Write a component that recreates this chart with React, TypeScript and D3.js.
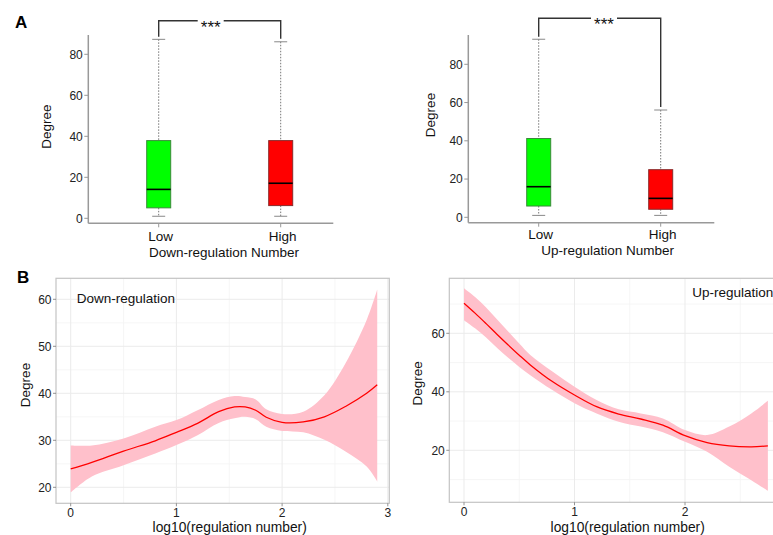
import React from "react";
import * as d3 from "d3";

// ---------- Panel A data (box plots) ----------
const boxCategories = ["Low", "High"];
const downBoxStats = [
  { lower: 1, q1: 5.1, median: 14.1, q3: 37.9, upper: 87.3 },
  { lower: 1, q1: 6.2, median: 17.1, q3: 37.9, upper: 86.1 },
];
const upBoxStats = [
  { lower: 1, q1: 5.9, median: 16.0, q3: 41.2, upper: 93.1 },
  { lower: 1, q1: 4.2, median: 9.9, q3: 24.9, upper: 56.1 },
];
const boxFills = ["#00FF00", "#FF0000"];
const boxStrokes = ["#3a8a3a", "#8a2a2a"];
const boxYTicks = [0, 20, 40, 60, 80];

// ---------- Panel B data (smooth fits) ----------
const downX = [0, 0.2, 0.5, 0.8, 1.0, 1.2, 1.4, 1.55, 1.65, 1.75, 1.85, 2.0, 2.2, 2.4, 2.6, 2.8, 2.9];
const downFit = [23.9, 25.3, 27.7, 29.9, 31.7, 33.6, 36.1, 37.1, 37.1, 36.4, 34.9, 33.8, 33.9, 35.0, 37.2, 40.0, 41.8];
const downUpper = [28.9, 28.9, 30.4, 32.9, 34.3, 36.4, 38.6, 39.4, 39.2, 38.7, 36.6, 35.6, 36.1, 39.6, 46.4, 55.6, 62.1];
const downLower = [18.9, 22.3, 24.7, 27.2, 29.0, 31.1, 33.7, 34.7, 35.0, 34.5, 32.9, 32.0, 31.7, 30.1, 27.6, 24.4, 21.2];

const upX = [0, 0.1, 0.2, 0.3, 0.4, 0.5, 0.6, 0.8, 1.0, 1.2, 1.4, 1.6, 1.8, 2.0, 2.2, 2.4, 2.6, 2.75];
const upFit = [70.3, 66.9, 63.3, 59.6, 56.0, 52.5, 49.2, 43.5, 38.9, 34.9, 32.4, 30.7, 28.6, 25.0, 22.6, 21.5, 21.2, 21.5];
const upUpper = [75.4, 72.4, 68.8, 64.7, 60.6, 56.5, 52.6, 46.9, 41.7, 37.2, 34.0, 32.6, 30.9, 26.9, 25.2, 28.1, 32.6, 36.9];
const upLower = [64.5, 61.7, 58.6, 55.0, 51.6, 48.5, 45.7, 40.6, 36.1, 32.6, 29.8, 28.1, 26.2, 22.9, 19.5, 14.4, 9.8, 6.2];

const downYTicks = [20, 30, 40, 50, 60];
const downYMinor = [25, 35, 45, 55];
const upYTicks = [20, 40, 60];
const upYMinor = [10, 30, 50, 70];
const xTicks = [0, 1, 2, 3];
const xMinor = [0.5, 1.5, 2.5];

const FONT = "Liberation Sans, Arial, Helvetica, sans-serif";

type Stat = { lower: number; q1: number; median: number; q3: number; upper: number };

function BoxPanel(props: {
  stats: Stat[];
  axisX0: number; axisX1: number; axisYTop: number; axisYBottom: number;
  y0: number; y80: number; xLow: number; xHigh: number;
  xTitle: string; yTitleX: number; yTitleY: number; xTitleX: number; xTitleY: number; catY: number;
  bracketY: number; starsX: number;
}) {
  const p = props;
  const y = d3.scaleLinear().domain([0, 80]).range([p.y0, p.y80]);
  const x = d3.scalePoint<string>().domain(boxCategories).range([p.xLow, p.xHigh]);
  const bw = 24;
  const cap = 6.5;
  const gray = "#999";
  const xs = boxCategories.map((c) => x(c) as number);
  return (
    <g>
      <line x1={p.axisX0} x2={p.axisX0} y1={p.axisYTop} y2={p.axisYBottom} stroke={gray} strokeWidth={1.5} />
      <line x1={p.axisX0} x2={p.axisX1} y1={p.axisYBottom} y2={p.axisYBottom} stroke={gray} strokeWidth={1.5} />
      {boxYTicks.map((t) => (
        <g key={t}>
          <line x1={p.axisX0 - 4} x2={p.axisX0} y1={y(t)} y2={y(t)} stroke={gray} strokeWidth={1} />
          <text x={p.axisX0 - 5.5} y={y(t)} dy="0.36em" textAnchor="end" fontSize={12} fill="#222" fontFamily={FONT}>{t}</text>
        </g>
      ))}
      {boxCategories.map((c, i) => (
        <g key={c}>
          <line x1={xs[i]} x2={xs[i]} y1={p.axisYBottom} y2={p.axisYBottom + 4} stroke={gray} strokeWidth={1} />
          <text x={xs[i] + 2} y={p.catY} textAnchor="middle" fontSize={13.5} fill="#111" fontFamily={FONT}>{c}</text>
        </g>
      ))}
      {p.stats.map((s, i) => {
        const cx = xs[i];
        return (
          <g key={i}>
            <line x1={cx} x2={cx} y1={y(s.upper)} y2={y(s.q3)} stroke="#777" strokeWidth={1} strokeDasharray="1.5,1.5" />
            <line x1={cx} x2={cx} y1={y(s.q1)} y2={y(s.lower)} stroke="#777" strokeWidth={1} strokeDasharray="1.5,1.5" />
            <line x1={cx - cap} x2={cx + cap} y1={y(s.upper)} y2={y(s.upper)} stroke="#888" strokeWidth={1} />
            <line x1={cx - cap} x2={cx + cap} y1={y(s.lower)} y2={y(s.lower)} stroke="#888" strokeWidth={1} />
            <rect x={cx - bw / 2} y={y(s.q3)} width={bw} height={y(s.q1) - y(s.q3)} fill={boxFills[i]} stroke={boxStrokes[i]} strokeWidth={1} />
            <line x1={cx - bw / 2} x2={cx + bw / 2} y1={y(s.median)} y2={y(s.median)} stroke="#000" strokeWidth={1.6} />
          </g>
        );
      })}
      <path
        d={`M${xs[0]},${y(p.stats[0].upper) - 2.5}V${p.bracketY}H${p.starsX - 13}M${p.starsX + 13},${p.bracketY}H${xs[1]}V${y(p.stats[1].upper) - 3}`}
        fill="none" stroke="#333" strokeWidth={1.4}
      />
      <text x={p.starsX} y={p.bracketY + 12} textAnchor="middle" fontSize={17} fill="#111" fontFamily={FONT}>***</text>
      <text x={p.xTitleX} y={p.xTitleY} textAnchor="middle" fontSize={13.5} fill="#111" fontFamily={FONT}>{p.xTitle}</text>
      <text transform={`translate(${p.yTitleX},${p.yTitleY}) rotate(-90)`} textAnchor="middle" dy="0.35em" fontSize={13.5} fill="#111" fontFamily={FONT}>Degree</text>
    </g>
  );
}

function SmoothPanel(props: {
  id: string;
  xs: number[]; fit: number[]; upper: number[]; lower: number[];
  left: number; right: number; top: number; bottom: number;
  x0: number; xPerUnit: number; yA: number; yAPix: number; yB: number; yBPix: number;
  yTicks: number[]; yMinor: number[]; label: string; labelX: number; labelY: number;
  yTitleX: number; yTitleY: number; xTitleX: number; xTitleY: number;
}) {
  const p = props;
  const x = d3.scaleLinear().domain([0, 1]).range([p.x0, p.x0 + p.xPerUnit]);
  const y = d3.scaleLinear().domain([p.yA, p.yB]).range([p.yAPix, p.yBPix]);
  const idx = p.xs.map((_, i) => i);
  const area = d3.area<number>().x((i) => x(p.xs[i])).y0((i) => y(p.lower[i])).y1((i) => y(p.upper[i])).curve(d3.curveCatmullRom.alpha(0.5));
  const line = d3.line<number>().x((i) => x(p.xs[i])).y((i) => y(p.fit[i])).curve(d3.curveCatmullRom.alpha(0.5));
  const inX = (v: number) => x(v) > p.left && x(v) < p.right;
  const inY = (v: number) => y(v) > p.top && y(v) < p.bottom;
  return (
    <g>
      <defs>
        <clipPath id={p.id}>
          <rect x={p.left} y={p.top} width={p.right - p.left} height={p.bottom - p.top} />
        </clipPath>
      </defs>
      <rect x={p.left} y={p.top} width={p.right - p.left} height={p.bottom - p.top} fill="#fff" />
      {xMinor.filter(inX).map((v) => (
        <line key={"xm" + v} x1={x(v)} x2={x(v)} y1={p.top} y2={p.bottom} stroke="#f4f4f4" strokeWidth={0.8} />
      ))}
      {p.yMinor.filter(inY).map((v) => (
        <line key={"ym" + v} x1={p.left} x2={p.right} y1={y(v)} y2={y(v)} stroke="#f4f4f4" strokeWidth={0.8} />
      ))}
      {xTicks.filter(inX).map((v) => (
        <line key={"xg" + v} x1={x(v)} x2={x(v)} y1={p.top} y2={p.bottom} stroke="#ebebeb" strokeWidth={1} />
      ))}
      {p.yTicks.filter(inY).map((v) => (
        <line key={"yg" + v} x1={p.left} x2={p.right} y1={y(v)} y2={y(v)} stroke="#ebebeb" strokeWidth={1} />
      ))}
      <g clipPath={`url(#${p.id})`}>
        <path d={area(idx) || ""} fill="#FFC0CB" />
        <path d={line(idx) || ""} fill="none" stroke="#FF0000" strokeWidth={1.3} />
      </g>
      <rect x={p.left} y={p.top} width={p.right - p.left} height={p.bottom - p.top} fill="none" stroke="#c4c4c4" strokeWidth={1.2} />
      {p.yTicks.filter(inY).map((v) => (
        <g key={"yt" + v}>
          <line x1={p.left - 3} x2={p.left} y1={y(v)} y2={y(v)} stroke="#777" strokeWidth={0.8} />
          <text x={p.left - 4.5} y={y(v)} dy="0.36em" textAnchor="end" fontSize={12} fill="#222" fontFamily={FONT}>{v}</text>
        </g>
      ))}
      {xTicks.filter(inX).map((v) => (
        <g key={"xt" + v}>
          <line x1={x(v)} x2={x(v)} y1={p.bottom} y2={p.bottom + 3} stroke="#777" strokeWidth={0.8} />
          <text x={x(v)} y={p.bottom + 13.5} textAnchor="middle" fontSize={12} fill="#222" fontFamily={FONT}>{v}</text>
        </g>
      ))}
      <text x={p.labelX} y={p.labelY} fontSize={13.5} fill="#111" fontFamily={FONT}>{p.label}</text>
      <text x={p.xTitleX} y={p.xTitleY} textAnchor="middle" fontSize={13.8} fill="#111" fontFamily={FONT}>log10(regulation number)</text>
      <text transform={`translate(${p.yTitleX},${p.yTitleY}) rotate(-90)`} textAnchor="middle" dy="0.35em" fontSize={13.5} fill="#111" fontFamily={FONT}>Degree</text>
    </g>
  );
}

export default function App() {
  return (
    <svg width={773} height={535} style={{ position: "absolute", left: 0, top: 0, background: "#fff" }} overflow="hidden">
      <rect x={0} y={0} width={773} height={535} fill="#fff" />
      <text x={15} y={28} fontSize={17} fontWeight="bold" fill="#000" fontFamily={FONT}>A</text>
      <text x={17} y={283} fontSize={17} fontWeight="bold" fill="#000" fontFamily={FONT}>B</text>

      <BoxPanel
        stats={downBoxStats}
        axisX0={88.3} axisX1={333.3} axisYTop={35} axisYBottom={223.3}
        y0={218.3} y80={54.3} xLow={158.7} xHigh={280.7}
        xTitle="Down-regulation Number" xTitleX={224} xTitleY={256.7} catY={240.7}
        yTitleX={46.7} yTitleY={126.7} bracketY={20.7} starsX={210.7}
      />
      <BoxPanel
        stats={upBoxStats}
        axisX0={468.3} axisX1={714.3} axisYTop={35} axisYBottom={222.7}
        y0={217.3} y80={64.3} xLow={538.7} xHigh={660.7}
        xTitle="Up-regulation Number" xTitleX={607.7} xTitleY={255} catY={239.3}
        yTitleX={430.7} yTitleY={115} bracketY={18.3} starsX={604}
      />

      <SmoothPanel
        id="clipDown"
        xs={downX} fit={downFit} upper={downUpper} lower={downLower}
        left={56} right={389.3} top={278.3} bottom={503.3}
        x0={70.7} xPerUnit={105.7} yA={20} yAPix={487.3} yB={60} yBPix={299.3}
        yTicks={downYTicks} yMinor={downYMinor}
        label="Down-regulation" labelX={76.7} labelY={302.7}
        yTitleX={25} yTitleY={385} xTitleX={229.7} xTitleY={532}
      />
      <SmoothPanel
        id="clipUp"
        xs={upX} fit={upFit} upper={upUpper} lower={upLower}
        left={449.3} right={783} top={278.3} bottom={502.3}
        x0={464} xPerUnit={110.5} yA={20} yAPix={450.3} yB={60} yBPix={333.3}
        yTicks={upYTicks} yMinor={upYMinor}
        label="Up-regulation" labelX={692.3} labelY={297.3}
        yTitleX={417.3} yTitleY={383.3} xTitleX={627.7} xTitleY={531.5}
      />
    </svg>
  );
}
